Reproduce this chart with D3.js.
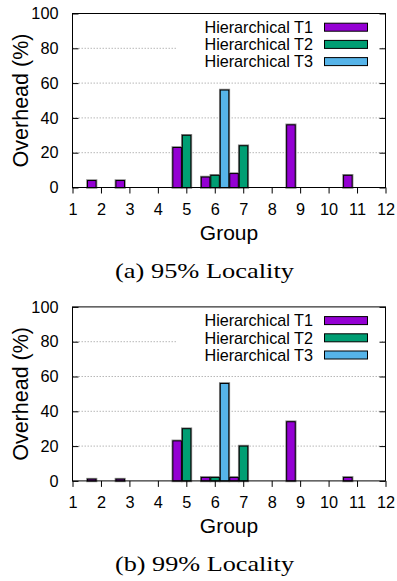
<!DOCTYPE html>
<html>
<head>
<meta charset="utf-8">
<script src="https://cdn.jsdelivr.net/npm/d3@7"></script>
<style>
  html, body { margin: 0; padding: 0; background: #fff; }
  svg { display: block; }
</style>
</head>
<body>
<svg id="chart" width="397" height="581"></svg>
<script>
// groups on the x axis (1..12), three series per group
const groups = [1, 2, 3, 4, 5, 6, 7, 8, 9, 10, 11, 12];
const seriesNames = ['Hierarchical T1', 'Hierarchical T2', 'Hierarchical T3'];
const seriesColors = ['#9400d3', '#009e73', '#56b4e9'];
const yTicks = [0, 20, 40, 60, 80, 100];

// (a) 95% locality
const t1Loc95 = [0, 4, 4, 0, 23, 6, 8, 0, 36, 0, 7, 0];
const t2Loc95 = [0, 0, 0, 0, 30, 7, 24, 0, 0, 0, 0, 0];
const t3Loc95 = [0, 0, 0, 0, 0, 56, 0, 0, 0, 0, 0, 0];

// (b) 99% locality
const t1Loc99 = [0, 1, 1, 0, 23, 2, 2, 0, 34, 0, 2, 0];
const t2Loc99 = [0, 0, 0, 0, 30, 2, 20, 0, 0, 0, 0, 0];
const t3Loc99 = [0, 0, 0, 0, 0, 56, 0, 0, 0, 0, 0, 0];

const panels = [
  { top: 0, caption: '(a) 95% Locality', series: [t1Loc95, t2Loc95, t3Loc95] },
  { top: 293.4, caption: '(b) 99% Locality', series: [t1Loc99, t2Loc99, t3Loc99] },
];

const sans = '"Liberation Sans", Arial, Helvetica, sans-serif';
const svg = d3.select('#chart');

const x = d3.scaleLinear().domain([1, 12]).range([72.5, 385.5]);
const barW = x(1.3) - x(1);

function drawPanel(panel) {
  const g = svg.append('g').attr('transform', `translate(0,${panel.top})`);
  const y = d3.scaleLinear().domain([0, 100]).range([187.5, 13.5]);

  // dotted grid
  g.append('g')
    .selectAll('line')
    .data(yTicks.filter((t) => t > 0 && t < 100))
    .join('line')
    .attr('x1', x(1))
    .attr('x2', x(12))
    .attr('y1', (t) => y(t))
    .attr('y2', (t) => y(t))
    .attr('stroke', '#b8b8b8')
    .attr('stroke-width', 1)
    .attr('stroke-dasharray', '1.5,1.5');

  // bars
  const bars = [];
  panel.series.forEach((vals, si) => {
    vals.forEach((v, gi) => {
      if (v > 0) bars.push({ group: groups[gi], si, v });
    });
  });
  const cx = (d) => x(d.group + (d.si - 1) / 3 + 0.01);
  const barG = g.append('g');
  barG.selectAll('rect.halo')
    .data(bars)
    .join('rect')
    .attr('class', 'halo')
    .attr('x', (d) => cx(d) - barW / 2)
    .attr('y', (d) => y(d.v))
    .attr('width', barW)
    .attr('height', (d) => y(0) - y(d.v))
    .attr('fill', 'none')
    .attr('stroke', '#8a8a8a')
    .attr('stroke-width', 2.6);
  barG.selectAll('rect.bar')
    .data(bars)
    .join('rect')
    .attr('class', 'bar')
    .attr('x', (d) => cx(d) - barW / 2)
    .attr('y', (d) => y(d.v))
    .attr('width', barW)
    .attr('height', (d) => y(0) - y(d.v))
    .attr('fill', (d) => seriesColors[d.si])
    .attr('stroke', '#000')
    .attr('stroke-width', 1);

  // legend (opaque box hides the grid behind it)
  const leg = g.append('g');
  leg.append('rect')
    .attr('x', 176)
    .attr('y', 17)
    .attr('width', 206)
    .attr('height', 53)
    .attr('fill', '#fff');
  seriesNames.forEach((name, i) => {
    const cy = 27.2 + i * 17.2;
    leg.append('rect')
      .attr('x', 324.5)
      .attr('y', cy - 4)
      .attr('width', 43)
      .attr('height', 8)
      .attr('fill', seriesColors[i])
      .attr('stroke', '#000')
      .attr('stroke-width', 1);
    leg.append('text')
      .attr('x', 313)
      .attr('y', cy)
      .attr('dy', '0.36em')
      .attr('text-anchor', 'end')
      .attr('font-family', sans)
      .attr('font-size', 16.2)
      .attr('fill', '#000')
      .text(name);
  });

  // frame
  g.append('rect')
    .attr('x', x(1))
    .attr('y', y(100))
    .attr('width', x(12) - x(1))
    .attr('height', y(0) - y(100))
    .attr('fill', 'none')
    .attr('stroke', '#000')
    .attr('stroke-width', 1);

  // y axis: inward ticks, mirrored on the right
  const yAxis = d3.axisLeft(y).tickValues(yTicks).tickSizeInner(-6).tickSizeOuter(0).tickPadding(14);
  const ya = g.append('g').attr('transform', `translate(${x(1)},0)`).call(yAxis);
  ya.select('.domain').remove();
  ya.selectAll('text').attr('font-family', sans).attr('font-size', 16.3).attr('fill', '#000');
  const yr = g.append('g').attr('transform', `translate(${x(12)},0)`)
    .call(d3.axisRight(y).tickValues(yTicks).tickSizeInner(-6).tickSizeOuter(0).tickFormat(''));
  yr.select('.domain').remove();

  // x axis: outward ticks
  const xAxis = d3.axisBottom(x).tickValues(groups).tickSizeInner(6).tickSizeOuter(0).tickPadding(10)
    .tickFormat(d3.format('d'));
  const xa = g.append('g').attr('transform', `translate(0,${y(0)})`).call(xAxis);
  xa.select('.domain').remove();
  xa.selectAll('text').attr('font-family', sans).attr('font-size', 16.3).attr('fill', '#000');

  // axis titles
  g.append('text')
    .attr('transform', `translate(27.5,${(y(0) + y(100)) / 2}) rotate(-90)`)
    .attr('text-anchor', 'middle')
    .attr('font-family', sans)
    .attr('font-size', 21.5)
    .attr('fill', '#000')
    .text('Overhead (%)');
  g.append('text')
    .attr('x', (x(1) + x(12)) / 2)
    .attr('y', 240)
    .attr('text-anchor', 'middle')
    .attr('font-family', sans)
    .attr('font-size', 21)
    .attr('fill', '#000')
    .text('Group');

  // caption
  g.append('text')
    .attr('x', 115)
    .attr('y', 278)
    .attr('font-family', '"Liberation Serif", "DejaVu Serif", serif')
    .attr('font-size', 21)
    .attr('textLength', 179)
    .attr('lengthAdjust', 'spacingAndGlyphs')
    .attr('fill', '#000')
    .text(panel.caption);
}

panels.forEach(drawPanel);
</script>
</body>
</html>
